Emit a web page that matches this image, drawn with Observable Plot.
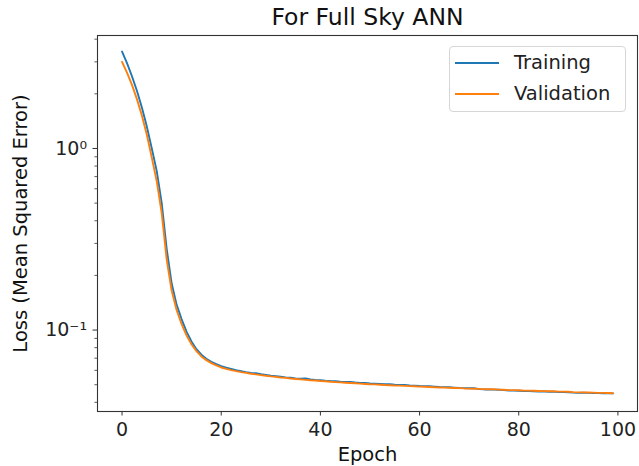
<!DOCTYPE html>
<html>
<head>
<meta charset="utf-8">
<script src="https://cdn.jsdelivr.net/npm/d3@7"></script>
<script src="https://cdn.jsdelivr.net/npm/@observablehq/plot@0.6"></script>
<style>
  html, body { margin: 0; padding: 0; background: #fff; }
  #wrap { position: relative; width: 639px; height: 466px; font-family: "DejaVu Sans", sans-serif; }
  #legend { position: absolute; left: 449px; top: 46px; width: 177px; height: 66px;
    border: 1px solid #d6d6d6; border-radius: 4px; background: rgba(255,255,255,0.8); box-sizing: border-box; }
  .lg-row { position: absolute; left: 0; height: 24px; display: flex; align-items: center; }
  .lg-row span { font-size: 19.5px; color: #222; margin-left: 15px; line-height: 24px; }
  .lg-sw { width: 44px; height: 2px; margin-left: 5px; }
</style>
</head>
<body>
<div id="wrap"></div>
<script>
const title = "For Full Sky ANN";
const xLabel = "Epoch";
const yLabel = "Loss (Mean Squared Error)";
const seriesNames = ["Training", "Validation"];
const seriesColors = ["#1f77b4", "#ff7f0e"];
const xTicks = [0, 20, 40, 60, 80, 100];
const yMajorTicks = [0.1, 1];
const yMajorLabels = ["10⁻¹", "10⁰"];
const yMinorTicks = [0.04, 0.05, 0.06, 0.07, 0.08, 0.09, 0.2, 0.3, 0.4, 0.5, 0.6, 0.7, 0.8, 0.9, 2, 3, 4];

const training = [
  3.42, 2.95, 2.50, 2.08, 1.68, 1.32, 1.00, 0.75, 0.50, 0.28,
  0.181, 0.138, 0.115, 0.098, 0.0865, 0.0785, 0.0732, 0.0695, 0.0669, 0.0649,
  0.0632, 0.0620, 0.0610, 0.0601, 0.0594, 0.0587, 0.0581, 0.0578, 0.0571, 0.0566,
  0.0561, 0.0557, 0.0553, 0.0549, 0.0546, 0.0542, 0.0540, 0.0541, 0.0534, 0.0531,
  0.0529, 0.0526, 0.0524, 0.0523, 0.0520, 0.0518, 0.0518, 0.0514, 0.0512, 0.0511,
  0.0508, 0.0507, 0.0505, 0.0503, 0.0503, 0.0500, 0.0499, 0.0499, 0.0496, 0.0494,
  0.0492, 0.0491, 0.0490, 0.0488, 0.0486, 0.0485, 0.0484, 0.0482, 0.0480, 0.0479,
  0.0478, 0.0479, 0.0473, 0.0471, 0.0471, 0.0470, 0.0469, 0.0467, 0.0465, 0.0464,
  0.0463, 0.0462, 0.0462, 0.0460, 0.0459, 0.0460, 0.0457, 0.0458, 0.0456, 0.0455,
  0.0454, 0.0452, 0.0451, 0.0452, 0.0451, 0.0450, 0.0450, 0.0449, 0.0449, 0.0448
];
const validation = [
  3.00, 2.62, 2.24, 1.87, 1.52, 1.19, 0.89, 0.66, 0.44, 0.245,
  0.165, 0.129, 0.108, 0.0935, 0.0835, 0.0765, 0.0716, 0.0683, 0.0658, 0.0639,
  0.0622, 0.0611, 0.0602, 0.0594, 0.0587, 0.0581, 0.0575, 0.0570, 0.0565, 0.0560,
  0.0556, 0.0552, 0.0548, 0.0545, 0.0541, 0.0538, 0.0535, 0.0532, 0.0529, 0.0527,
  0.0524, 0.0522, 0.0519, 0.0517, 0.0515, 0.0513, 0.0511, 0.0509, 0.0507, 0.0505,
  0.0503, 0.0502, 0.0500, 0.0498, 0.0497, 0.0495, 0.0494, 0.0493, 0.0491, 0.0490,
  0.0488, 0.0487, 0.0486, 0.0484, 0.0483, 0.0482, 0.0481, 0.0480, 0.0479, 0.0477,
  0.0476, 0.0475, 0.0474, 0.0473, 0.0472, 0.0473, 0.0470, 0.0469, 0.0467, 0.0467,
  0.0466, 0.0464, 0.0464, 0.0463, 0.0462, 0.0461, 0.0460, 0.0461, 0.0458, 0.0458,
  0.0457, 0.0455, 0.0454, 0.0454, 0.0453, 0.0452, 0.0451, 0.0451, 0.0450, 0.0449
];

const rows = [];
[training, validation].forEach((arr, s) => arr.forEach((v, i) => rows.push({epoch: i, loss: v, series: seriesNames[s]})));

const chart = Plot.plot({
  width: 639,
  height: 466,
  marginLeft: 97,
  marginRight: 2,
  marginTop: 35,
  marginBottom: 55,
  style: {fontFamily: "DejaVu Sans, sans-serif", background: "#fff", color: "#222"},
  x: {domain: [-4.95, 103.95]},
  y: {type: "log", domain: [0.0356, 4.19]},
  color: {domain: seriesNames, range: seriesColors},
  marks: [
    Plot.line(rows, {x: "epoch", y: "loss", z: "series", stroke: "series", strokeWidth: 1.9}),
    Plot.frame({stroke: "#333", strokeWidth: 1.1}),
    Plot.axisX({ticks: xTicks, tickFormat: d => String(d), tickSize: 4.5, tickPadding: 6, fontSize: 19, label: null, stroke: "#333"}),
    Plot.axisY({ticks: yMajorTicks, tickFormat: d => yMajorLabels[yMajorTicks.indexOf(d)], tickSize: 4.5, tickPadding: 6, fontSize: 19, label: null, stroke: "#333"}),
    Plot.axisY({ticks: yMinorTicks, tickFormat: () => "", tickSize: 2.6, label: null, stroke: "#333", strokeWidth: 0.8}),
    Plot.text([title], {text: d => d, frameAnchor: "top", lineAnchor: "middle", textAnchor: "middle", dy: -18, fontSize: 23.5, fill: "#111"}),
    Plot.text([xLabel], {text: d => d, frameAnchor: "bottom", lineAnchor: "middle", textAnchor: "middle", dy: 43, fontSize: 19.5, fill: "#111"}),
    Plot.text([yLabel], {text: d => d, frameAnchor: "left", lineAnchor: "middle", textAnchor: "middle", dx: -77, rotate: -90, fontSize: 19.5, fill: "#111"})
  ]
});

const wrap = document.getElementById("wrap");
wrap.appendChild(chart);
const legend = document.createElement("div");
legend.id = "legend";
seriesNames.forEach((name, i) => {
  const row = document.createElement("div");
  row.className = "lg-row";
  row.style.top = (4 + i * 31) + "px";
  const sw = document.createElement("div");
  sw.className = "lg-sw";
  sw.style.background = seriesColors[i];
  const tx = document.createElement("span");
  tx.textContent = name;
  row.appendChild(sw);
  row.appendChild(tx);
  legend.appendChild(row);
});
wrap.appendChild(legend);
</script>
</body>
</html>
